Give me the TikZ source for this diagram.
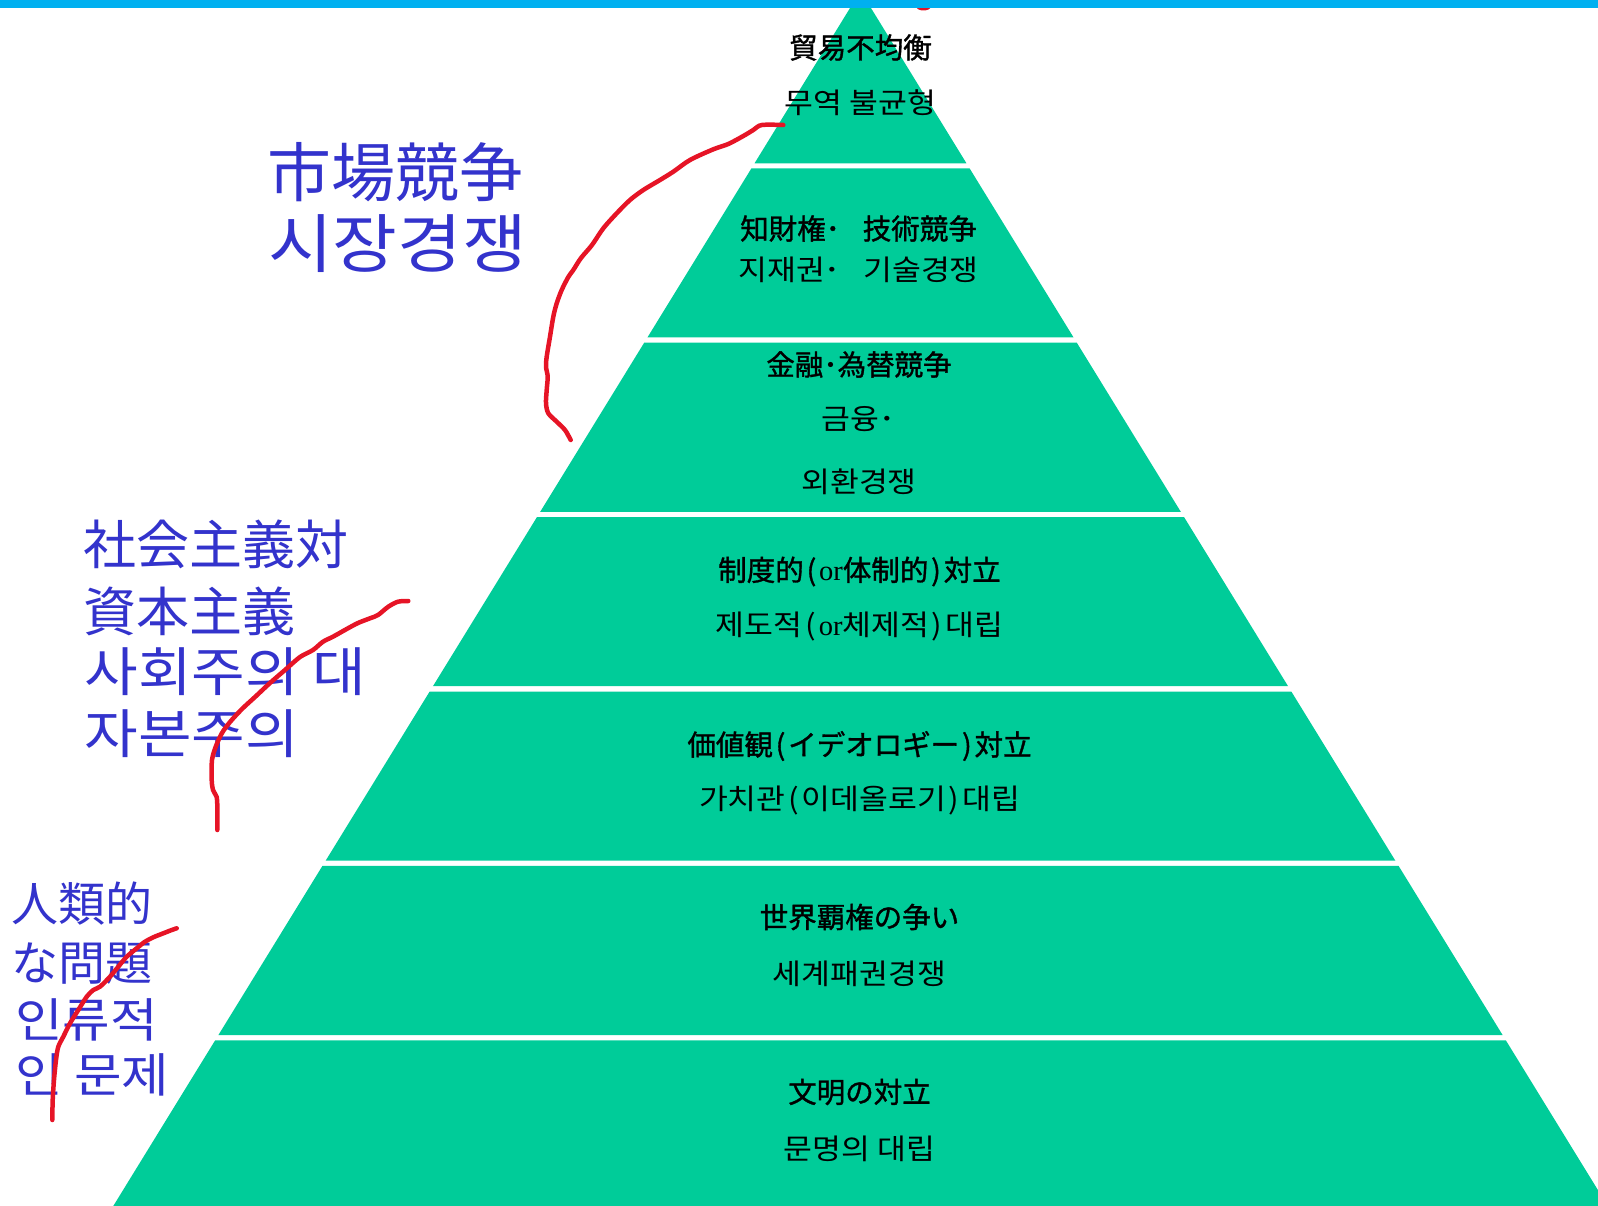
\documentclass[tikz,border=0pt]{standalone}
\usepackage{fontspec}
\newfontfamily\jpf{Noto Sans CJK JP}
\newfontfamily\jpb{Noto Sans CJK JP}[FakeBold=1.2]
\newfontfamily\krf{Noto Sans CJK KR}[FakeStretch=1.1]
\newfontfamily\latf{Liberation Serif}
\definecolor{pyr}{RGB}{0,204,153}
\definecolor{lbl}{RGB}{51,51,204}
\definecolor{pen}{RGB}{230,20,38}
\definecolor{topbar}{RGB}{0,176,240}
\newcommand{\orw}{{\latf or}}
\newcommand{\lp}{\kern0.1em(\kern0.1em}
\newcommand{\rp}{\kern0.1em)\kern0.1em}
\begin{document}
\begin{tikzpicture}[x=1pt,y=-1pt,
  jtxt/.style={font=\jpb\fontsize{28.5}{32}\selectfont, inner sep=0pt, text=black},
  ktxt/.style={font=\krf\fontsize{28.5}{32}\selectfont, inner sep=0pt, text=black},
  bjp/.style={font=\jpf\fontsize{#1}{#1}\selectfont, inner sep=0pt, text=lbl, anchor=west},
  bkr/.style={font=\krf\fontsize{#1}{#1}\selectfont, inner sep=0pt, text=lbl, anchor=west},
  penline/.style={draw=pen, line width=4.5pt, line cap=round, line join=round}]
\useasboundingbox (0,0) rectangle (1598,1206);
\begin{scope}
\clip (0,0) rectangle (1598,1206);
% pyramid bands
\fill[pyr] (860.5,-9) -- ({860.5+0.615*(163.3+9)},163.3) -- ({860.5-0.615*(163.3+9)},163.3) -- cycle;
\foreach \t/\b in {168.3/337.4, 342.7/511.8, 517.1/686.2, 691.5/860.6, 865.9/1035.0, 1040.3/1215}{
  \fill[pyr] ({860.5-0.615*(\t+9)},\t) -- ({860.5+0.615*(\t+9)},\t) -- ({860.5+0.615*(\b+9)},\b) -- ({860.5-0.615*(\b+9)},\b) -- cycle;
}
\end{scope}
% band texts
\node[jtxt] (j1) at (860.5,47.5) {貿易不均衡};
\node[ktxt] (k1) at (860.5,103) {무역 불균형};
\node[jtxt] (j2) at (858.5,228.5) {知財権･\hspace{0.8em}技術競争};
\node[ktxt] (k2) at (858.5,270) {지재권･\hspace{0.8em}기술경쟁};
\node[jtxt] (j3) at (859,364.5) {金融･為替競争};
\node[ktxt] (k3a) at (858,419.5) {금융･};
\node[ktxt] (k3b) at (859,482) {외환경쟁};
\node[jtxt] (j4) at (859.5,571.5) {制度的\lp\orw 体制的\rp 対立};
\node[ktxt] (k4) at (859.5,627) {제도적\lp\orw 체제적\rp 대립};
\node[jtxt] (j5) at (859.5,746) {価値観\lp イデオロギー\rp 対立};
\node[ktxt] (k5) at (859.5,800.5) {가치관\lp 이데올로기\rp 대립};
\node[jtxt] (j6) at (859.5,917) {世界覇権の争い};
\node[ktxt] (k6) at (859.5,974) {세계패권경쟁};
\node[jtxt] (j7) at (859.5,1092) {文明の対立};
\node[ktxt] (k7) at (859.5,1149) {문명의 대립};
% blue side labels
\node[bjp=64] (m1) at (267,171.7) {市場競争};
\node[bkr=64] (m2) at (268,243.3) {시장경쟁};
\node[bjp=53] (s1) at (83,544) {社会主義対};
\node[bjp=53] (s2) at (83,611) {資本主義};
\node[bkr=53] (s3) at (84.5,671.7) {사회주의 대};
\node[bkr=53] (s4) at (84.5,734) {자본주의};
\node[bjp=47] (h1) at (11,904) {人類的};
\node[bjp=47] (h2) at (11,964) {な問題};
\node[bkr=47] (h3) at (15,1020) {인류적};
\node[bkr=47] (h4) at (15,1075) {인 문제};
% red hand-drawn strokes
\draw[penline] plot[smooth, tension=0.5] coordinates {(783.3,125) (761.7,125) (753.3,130) (743.3,136) (728.3,144) (713.3,149.3) (690,160) (673.3,171.7) (660,180) (643.3,190) (630,200) (616.7,213.3) (603.3,228.3) (592,245) (581,258) (573.3,270) (568.3,277) (561.7,290) (556.7,303.3) (553.3,316.7) (550,336.7) (546.7,356.7) (546,366.7) (547.7,376.7) (546.7,390) (546,403.3) (548.3,413.3) (556.7,421.7) (565,430) (570.7,440)};
\draw[penline] plot[smooth, tension=0.5] coordinates {(408.3,601) (398,601.7) (388.3,606.7) (378,615) (370,618.3) (358,623) (346.7,629) (333,636.7) (323,641.7) (313,650) (300,657) (285,670) (270,683) (255,697) (242,709) (230,722) (222,733) (216,746) (212,760) (211.7,780) (213,790) (216.7,797) (217.3,807) (217.3,830)};
\draw[penline] plot[smooth, tension=0.5] coordinates {(176.7,928.3) (171.7,930) (163.3,933.3) (153.3,937.3) (145,941.7) (136.7,948.3) (126.7,956.7) (118.3,966.7) (110,976.7) (100,986.7) (93.3,990) (86.7,996.7) (78.3,1010) (70,1023.3) (63.3,1036.7) (58.3,1046.7) (56,1060) (54,1080) (52.7,1100) (52.3,1120)};
\fill[pen] (923.5,7) ellipse (7 and 3.5);
% top bar
\fill[topbar] (0,0) rectangle (1598,8);
\end{tikzpicture}
\end{document}
